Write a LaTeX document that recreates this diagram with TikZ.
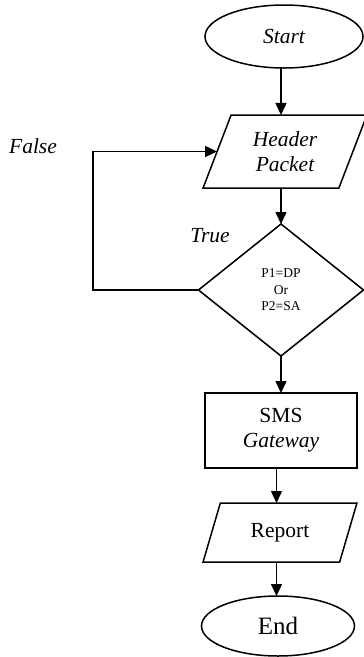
\documentclass[tikz,border=0pt]{standalone}
\usepackage{fontspec}
\setmainfont{Liberation Serif}
\usetikzlibrary{shapes.geometric,arrows.meta}
\begin{document}
\begin{tikzpicture}[x=1pt,y=-1pt,
  every node/.style={outer sep=0pt,inner sep=1pt},
  base/.style={draw=black,line width=1.5pt,font=\fontsize{21.5}{25}\selectfont,align=center},
  term/.style={base,ellipse},
  io/.style={base,trapezium,trapezium stretches=true},
  proc/.style={base,rectangle},
  decide/.style={base,diamond,font=\fontsize{13.5}{16.5}\selectfont},
  lbl/.style={font=\fontsize{21.5}{25}\selectfont\itshape},
  arr/.style={line width=1.5pt,-{Triangle[length=12pt,width=11pt]}}
]
\useasboundingbox (0,0) rectangle (364,657);
\node[term,minimum width=158pt,minimum height=63pt] (start) at (284,36.5) {\itshape Start};
\node[io,trapezium left angle=67.7,trapezium right angle=112.3,minimum width=164pt,minimum height=73pt] (hdr) at (285,151.5) {\itshape Header\\\itshape Packet};
\node[decide,minimum width=165pt,minimum height=132pt] (dia) at (281,290) {P1=DP\\Or\\P2=SA};
\node[proc,minimum width=152pt,minimum height=75pt] (box) at (281,430.5) {SMS\\\itshape Gateway};
\node[io,trapezium left angle=67,trapezium right angle=113,minimum width=154pt,minimum height=59pt] (rep) at (280,532.5) {Report};
\node[term,minimum width=153pt,minimum height=60pt,font=\fontsize{25}{28}\selectfont] (end) at (278,626) {End};
\coordinate (ax2) at (276.5,0);
\coordinate (lp) at (93,0);
\node[lbl] (false) at (33,146) {False};
\node[lbl] (true) at (210,236) {True};
\draw[arr] (start.south -| dia.north) -- (hdr.north -| dia.north);
\draw[arr] (hdr.south -| dia.north) -- (dia.north);
\draw[arr] (dia.south) -- (box.north);
\draw[arr] (box.south -| ax2) -- (rep.north -| ax2);
\draw[arr] (rep.south -| ax2) -- (end.north -| ax2);
\draw[arr] (dia.west) -- (dia.west -| lp) -- (hdr.west -| lp) -- (hdr.west);
\end{tikzpicture}
\end{document}
